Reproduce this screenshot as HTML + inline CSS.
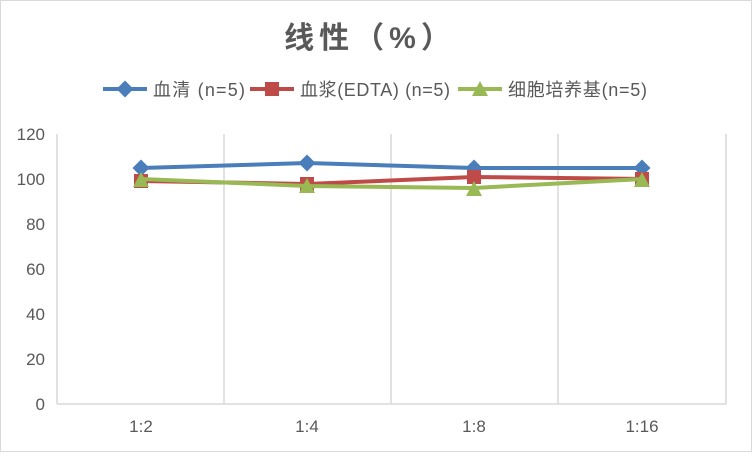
<!DOCTYPE html><html><head><meta charset="utf-8"><style>body{margin:0;background:#fff}</style></head><body>
<svg width="752" height="452" xmlns="http://www.w3.org/2000/svg" style="font-family:'Liberation Sans','Noto Sans CJK SC',sans-serif">
<rect x="0.5" y="0.5" width="751" height="451" fill="#fff" stroke="#d9d9d9"/>
<text x="370" y="48" text-anchor="middle" font-size="30" font-weight="bold" fill="#595959" letter-spacing="5">线性（%）</text>
<g font-size="18" fill="#595959">
<line x1="103" y1="89" x2="147" y2="89" stroke="#4a7ebb" stroke-width="4"/><rect x="119" y="83" width="12" height="12" fill="#4a7ebb" transform="rotate(45 125 89)"/>
<text x="153" y="96" textLength="92">血清 (n=5)</text>
<line x1="250" y1="89" x2="294" y2="89" stroke="#be4b48" stroke-width="4"/><rect x="265" y="82" width="14" height="14" fill="#be4b48"/>
<text x="300" y="96" textLength="150">血浆(EDTA) (n=5)</text>
<line x1="458" y1="89" x2="502" y2="89" stroke="#98b954" stroke-width="4"/><polygon points="480,81 488,96 472,96" fill="#98b954"/>
<text x="508" y="96" textLength="139">细胞培养基(n=5)</text>
</g>
<g stroke="#d9d9d9" stroke-width="1.5">
<line x1="57" y1="134" x2="57" y2="404"/>
<line x1="224" y1="134" x2="224" y2="404"/><line x1="391" y1="134" x2="391" y2="404"/><line x1="558" y1="134" x2="558" y2="404"/><line x1="726" y1="134" x2="726" y2="404"/>
<line x1="57" y1="404" x2="726" y2="404"/>
</g>
<g font-size="17" fill="#595959" text-anchor="end">
<text x="45" y="410">0</text><text x="45" y="365">20</text><text x="45" y="320">40</text><text x="45" y="275">60</text><text x="45" y="230">80</text><text x="45" y="185">100</text><text x="45" y="140">120</text>
</g>
<g font-size="17" fill="#595959" text-anchor="middle">
<text x="141" y="432">1:2</text><text x="307" y="432">1:4</text><text x="474" y="432">1:8</text><text x="642" y="432">1:16</text>
</g>
<polyline points="141,168 307,163 474,168 642,168" fill="none" stroke="#4a7ebb" stroke-width="4"/>
<g fill="#4a7ebb">
<rect x="135" y="162" width="12" height="12" transform="rotate(45 141 168)"/>
<rect x="301" y="157" width="12" height="12" transform="rotate(45 307 163)"/>
<rect x="468" y="162" width="12" height="12" transform="rotate(45 474 168)"/>
<rect x="636" y="162" width="12" height="12" transform="rotate(45 642 168)"/>
</g>
<polyline points="141,181 307,184 474,177 642,179" fill="none" stroke="#be4b48" stroke-width="4"/>
<g fill="#be4b48">
<rect x="134" y="174" width="14" height="14"/><rect x="300" y="177" width="14" height="14"/><rect x="467" y="170" width="14" height="14"/><rect x="635" y="172" width="14" height="14"/>
</g>
<polyline points="141,179 307,186 474,188 642,179" fill="none" stroke="#98b954" stroke-width="4"/>
<g fill="#98b954">
<polygon points="141,172 149,187 133,187"/><polygon points="307,178 315,193 299,193"/><polygon points="474,181 482,196 466,196"/><polygon points="642,172 650,187 634,187"/>
</g>
</svg></body></html>
